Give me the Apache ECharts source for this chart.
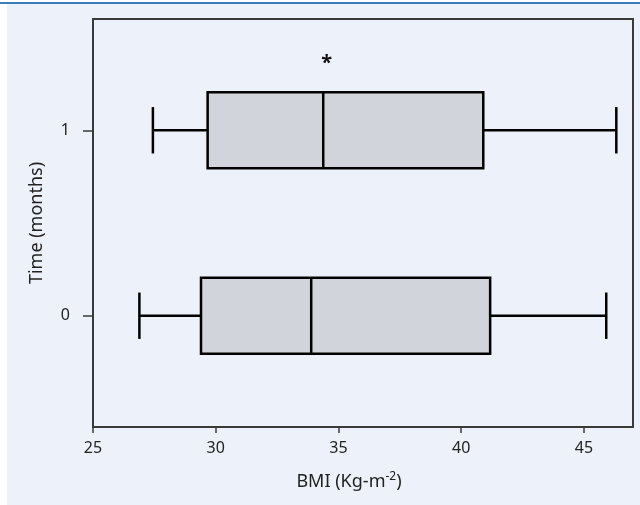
<!DOCTYPE html>
<html>
<head>
<meta charset="utf-8">
<script src="https://cdn.jsdelivr.net/npm/echarts@6/dist/echarts.min.js"></script>
<style>
  html, body { margin: 0; padding: 0; background: #ffffff; }
  #stripe { position: absolute; left: 0; top: 2px; width: 640px; height: 2px; background: #3b7cbd; }
  #panel { position: absolute; left: 7px; top: 4px; width: 633px; height: 501px; background: #edf1f9; }
  #chart { position: absolute; left: 0; top: 0; width: 640px; height: 505px; }
</style>
</head>
<body>
<div id="stripe"></div>
<div id="panel"></div>
<div id="chart"></div>
<script>
// Time points (y positions) and five-number summaries of BMI
const timePoints = [0, 1];
const whiskerLow = [26.89, 27.44];
const quartile1  = [29.40, 29.67];
const medians    = [33.89, 34.38];
const quartile3  = [41.18, 40.90];
const whiskerHigh = [45.91, 46.32];
// significance marker
const markerX = [34.52];
const markerY = [1.36];
const markerText = ['*'];
// axis ticks
const xTicks = [25, 30, 35, 40, 45];
const yTicks = [0, 1];

const boxData = timePoints.map((t, i) => [t, whiskerLow[i], quartile1[i], medians[i], quartile3[i], whiskerHigh[i]]);
const markerData = markerX.map((x, i) => [x, markerY[i], markerText[i]]);

const FONT = 'Noto Sans';
const TXT = '#222';
const BOX_H = 0.41;
const CAP_H = 0.25;

const chart = echarts.init(document.getElementById('chart'), null, { renderer: 'canvas' });
chart.setOption({
  backgroundColor: 'transparent',
  animation: false,
  grid: {
    left: 93, right: 7, top: 19, bottom: 78,
    show: true, borderColor: '#3a3a3a', borderWidth: 2, backgroundColor: 'transparent'
  },
  xAxis: {
    type: 'value', min: 25, max: 47,
    name: 'BMI (Kg-m{sup|-2})',
    nameLocation: 'middle', nameGap: 44,
    nameTextStyle: {
      fontFamily: FONT, fontSize: 18, color: TXT, padding: [0, 28, 0, 0],
      rich: { sup: { fontFamily: FONT, fontSize: 12, color: TXT, verticalAlign: 'top', padding: [0, 0, 10, 0] } }
    },
    axisLine: { show: true, onZero: false, lineStyle: { color: '#3a3a3a', width: 2 } },
    axisTick: { show: true, length: 6, customValues: xTicks, lineStyle: { color: '#3a3a3a', width: 1.5 } },
    axisLabel: { customValues: xTicks, margin: 13, fontFamily: FONT, fontSize: 16, color: TXT },
    splitLine: { show: false }
  },
  yAxis: {
    type: 'value', min: -0.6, max: 1.6,
    name: 'Time (months)',
    nameLocation: 'middle', nameGap: 47,
    nameTextStyle: { fontFamily: FONT, fontSize: 18, color: TXT },
    axisLine: { show: true, onZero: false, lineStyle: { color: '#3a3a3a', width: 2 } },
    axisTick: { show: true, length: 10, customValues: yTicks, lineStyle: { color: '#3a3a3a', width: 1.5 } },
    axisLabel: { customValues: yTicks, margin: 23, fontFamily: FONT, fontSize: 16, color: TXT },
    splitLine: { show: false }
  },
  series: [
    {
      type: 'custom',
      data: boxData,
      encode: { x: [1, 2, 3, 4, 5], y: 0 },
      renderItem: function (params, api) {
        const y = api.value(0);
        const pLow = api.coord([api.value(1), y]);
        const pQ1 = api.coord([api.value(2), y]);
        const pMed = api.coord([api.value(3), y]);
        const pQ3 = api.coord([api.value(4), y]);
        const pHigh = api.coord([api.value(5), y]);
        const hb = api.size([0, BOX_H])[1] / 2;
        const hc = api.size([0, CAP_H])[1] / 2;
        const st = { stroke: '#000', lineWidth: 2.5, fill: null };
        return {
          type: 'group',
          children: [
            { type: 'line', shape: { x1: pLow[0], y1: pLow[1], x2: pQ1[0], y2: pQ1[1] }, style: st },
            { type: 'line', shape: { x1: pQ3[0], y1: pQ3[1], x2: pHigh[0], y2: pHigh[1] }, style: st },
            { type: 'line', shape: { x1: pLow[0], y1: pLow[1] - hc, x2: pLow[0], y2: pLow[1] + hc }, style: st },
            { type: 'line', shape: { x1: pHigh[0], y1: pHigh[1] - hc, x2: pHigh[0], y2: pHigh[1] + hc }, style: st },
            { type: 'rect', shape: { x: pQ1[0], y: pQ1[1] - hb, width: pQ3[0] - pQ1[0], height: hb * 2 },
              style: { fill: '#d1d5db', stroke: '#000', lineWidth: 2.5 } },
            { type: 'line', shape: { x1: pMed[0], y1: pMed[1] - hb, x2: pMed[0], y2: pMed[1] + hb }, style: st }
          ]
        };
      }
    },
    {
      type: 'custom',
      data: markerData,
      encode: { x: 0, y: 1 },
      renderItem: function (params, api) {
        const p = api.coord([api.value(0), api.value(1)]);
        return {
          type: 'text',
          x: p[0], y: p[1],
          style: {
            text: markerData[params.dataIndex][2],
            fontFamily: FONT, fontSize: 20, fontWeight: 'bold', fill: '#111',
            align: 'center', verticalAlign: 'middle'
          }
        };
      }
    }
  ]
});
</script>
</body>
</html>
